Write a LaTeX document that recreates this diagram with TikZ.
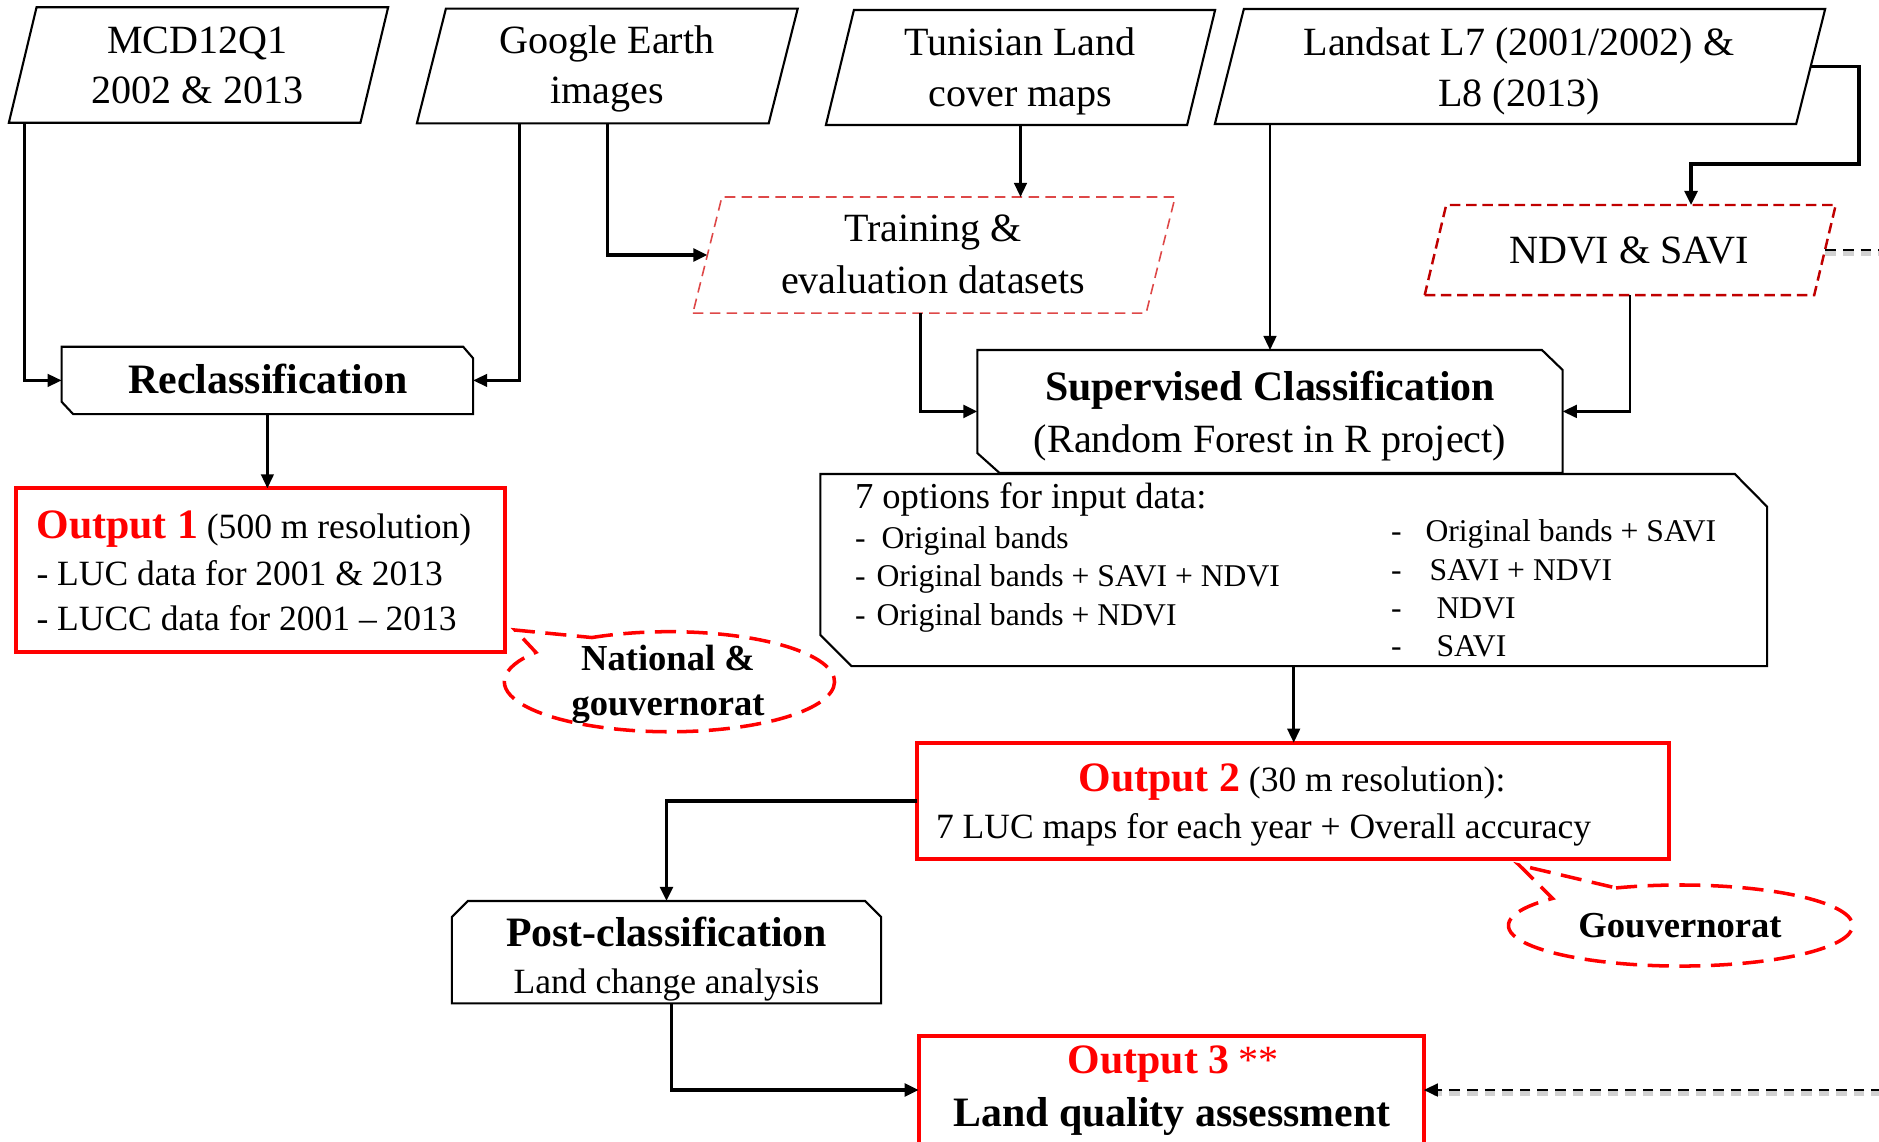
\documentclass[tikz,border=0pt]{standalone}
\usepackage{fontspec}
\setmainfont{Liberation Serif}
\usetikzlibrary{arrows.meta,calc}
\definecolor{trainred}{RGB}{222,72,72}
\definecolor{ndvired}{RGB}{192,0,0}
\definecolor{outred}{RGB}{255,0,0}
\newcommand\fxA{\fontsize{11.4pt}{14.2pt}\selectfont}
\newcommand\fxB{\fontsize{11.9pt}{14.5pt}\selectfont\bfseries}
\newcommand\fxC{\fontsize{10.1pt}{13pt}\selectfont}
\newcommand\fxH{\fontsize{10.4pt}{13pt}\selectfont}
\newcommand\fxD{\fontsize{9pt}{11pt}\selectfont}
\newcommand\fxE{\fontsize{10.4pt}{13pt}\selectfont\bfseries}
\newcommand\paraout[3]{\draw[#1] (#2.south west) -- ([xshift=-#3]#2.south east) -- (#2.north east) -- ([xshift=#3]#2.north west) -- cycle;}
\newcommand\snipout[6]{\draw[#1] (#2.north west) -- ([xshift=-#3]#2.north east) -- ([yshift=-#4]#2.north east) -- (#2.south east) -- ([xshift=#5]#2.south west) -- ([yshift=#6]#2.south west) -- cycle;}
\begin{document}
\begin{tikzpicture}[x=0.01cm,y=0.01cm,
  frame/.style={inner sep=0pt, outer sep=0pt},
  tx/.style={inner sep=0pt, outer sep=0pt, anchor=base},
  txl/.style={inner sep=0pt, outer sep=0pt, anchor=base west},
  boxline/.style={draw=black, line width=0.6pt, line join=miter},
  redbox/.style={draw=outred, line width=1.1pt},
  trainline/.style={draw=trainred, line width=0.45pt, dash pattern=on 3pt off 1.8pt},
  ndviline/.style={draw=ndvired, line width=0.7pt, dash pattern=on 3pt off 1.6pt},
  callout/.style={draw=outred, line width=1pt, dash pattern=on 6pt off 3pt},
  conn/.style={draw=black, line width=0.7pt, -{Triangle[length=4pt,width=3.6pt]}},
  connk/.style={conn, line width=0.95pt},
  dashk/.style={draw=black, line width=0.75pt, dash pattern=on 3pt off 2pt},
  shadowk/.style={draw=black!18, line width=1.8pt, dash pattern=on 3pt off 2pt}
]
\useasboundingbox (0,0) rectangle (1879,-1141);
\clip (0,0) rectangle (1879,-1141);

% ---------- frames ----------
\node[frame, minimum width=3.791cm, minimum height=1.154cm] (mcd) at (198.5,-65) {};
\node[frame, minimum width=3.806cm, minimum height=1.146cm] (google) at (607.3,-66) {};
\node[frame, minimum width=3.89cm, minimum height=1.15cm] (tunis) at (1020.5,-67.5) {};
\node[frame, minimum width=6.10cm, minimum height=1.15cm] (landsat) at (1520,-66.5) {};
\node[frame, minimum width=4.82cm, minimum height=1.16cm] (train) at (934,-255) {};
\node[frame, minimum width=4.108cm, minimum height=0.90cm] (ndvi) at (1630.2,-250) {};
\node[frame, minimum width=4.113cm, minimum height=0.673cm] (reclass) at (267.4,-380.4) {};
\node[frame, minimum width=5.85cm, minimum height=1.227cm] (sup) at (1270,-411.4) {};
\node[frame, minimum width=9.462cm, minimum height=1.92cm] (opts) at (1293.7,-570) {};
\node[frame, minimum width=4.887cm, minimum height=1.637cm] (out1) at (260.7,-570.2) {};
\node[frame, minimum width=7.519cm, minimum height=1.166cm] (out2) at (1293,-801) {};
\node[frame, minimum width=4.29cm, minimum height=1.023cm] (post) at (666.5,-952.2) {};
\node[frame, minimum width=5.047cm, minimum height=1.08cm] (out3) at (1171.25,-1090) {};
\coordinate (natl) at (669.4,-681.7);
\coordinate (natlTip) at (515,-630);
\coordinate (gouv) at (1680.5,-925.5);
\coordinate (gouvTip) at (1519,-865);
\coordinate (edgeA) at (1882,-250);
\coordinate (edgeB) at (1882,-1090);
\coordinate (ndin) at ([xshift=0.608cm]ndvi.north);
\coordinate (ndturn) at ($(ndin)+(0,41)$);

% ---------- outlines ----------
\paraout{boxline}{mcd}{0.277cm}
\paraout{boxline}{google}{0.29cm}
\paraout{boxline}{tunis}{0.28cm}
\paraout{boxline}{landsat}{0.29cm}
\paraout{trainline}{train}{0.29cm}
\paraout{ndviline}{ndvi}{0.215cm}
\snipout{boxline}{reclass}{0.10cm}{0.116cm}{0.115cm}{0.123cm}
\snipout{boxline}{sup}{0.207cm}{0.20cm}{0.22cm}{0.197cm}
\snipout{boxline}{opts}{0.323cm}{0.327cm}{0.31cm}{0.31cm}
\draw[boxline] (post.south west) -- ([yshift=-0.16cm]post.north west) -- ([xshift=0.16cm]post.north west) -- ([xshift=-0.16cm]post.north east) -- ([yshift=-0.16cm]post.north east) -- (post.south east) -- cycle;
\draw[redbox] (out1.south west) rectangle (out1.north east);
\draw[redbox] (out2.south west) rectangle (out2.north east);
\draw[redbox] (out3.south west) rectangle (out3.north east);
\draw[callout] ($(natl)+(118:1.65cm and 0.5cm)$) arc[start angle=118, end angle=-216, x radius=1.65cm, y radius=0.5cm] -- (natlTip) -- cycle;
\draw[callout] ($(gouv)+(112:1.72cm and 0.405cm)$) arc[start angle=112, end angle=-222, x radius=1.72cm, y radius=0.405cm] -- (gouvTip) -- cycle;

% ---------- texts ----------
\node[tx, font=\fxA] (mcdT1) at (197.5,-53.3) {MCD12Q1};
\node[tx, font=\fxA] (mcdT2) at (197.5,-103.3) {2002 \& 2013};
\node[tx, font=\fxA] (googleT1) at (607,-53.3) {Google Earth};
\node[tx, font=\fxA] (googleT2) at (607,-103.3) {images};
\node[tx, font=\fxA] (tunisT1) at (1020.2,-55) {Tunisian Land};
\node[tx, font=\fxA] (tunisT2) at (1020.2,-106.7) {cover maps};
\node[tx, font=\fxA] (landsatT1) at (1519,-55) {Landsat L7 (2001/2002) \&};
\node[tx, font=\fxA] (landsatT2) at (1519,-106.7) {L8 (2013)};
\node[tx, font=\fxA] (trainT1) at (933,-241.5) {Training \&};
\node[tx, font=\fxA] (trainT2) at (933,-293) {evaluation datasets};
\node[tx, font=\fxA] (ndviT) at (1629,-263.3) {NDVI \& SAVI};
\node[tx, font=\fxB] (reclassT) at (268,-393.3) {Reclassification};
\node[tx, font=\fxB] (supT1) at (1270,-400) {Supervised Classification};
\node[tx, font=\fxA] (supT2) at (1270,-452) {(Random Forest in R project)};

\node[txl, font=\fxH] (optH) at (855,-508.3) {7 options for input data:};
\node[txl, font=\fxD] (optL1) at (855,-548.3) {-\hspace{0.16cm}Original bands};
\node[txl, font=\fxD] (optL2) at (855,-586.7) {-\hspace{0.11cm}Original bands + SAVI + NDVI};
\node[txl, font=\fxD] (optL3) at (855,-625) {-\hspace{0.11cm}Original bands + NDVI};
\node[txl, font=\fxD] (optR1) at (1391,-541.7) {-\hspace{0.24cm}Original bands + SAVI};
\node[txl, font=\fxD] (optR2) at (1391,-580) {-\hspace{0.28cm}SAVI + NDVI};
\node[txl, font=\fxD] (optR3) at (1391,-618.3) {-\hspace{0.35cm}NDVI};
\node[txl, font=\fxD] (optR4) at (1391,-656.7) {-\hspace{0.35cm}SAVI};

\node[txl] (out1T1) at (36.5,-538.3) {{\fxB\color{outred}Output 1} {\fxC(500 m resolution)}};
\node[txl, font=\fxC] (out1T2) at (36.5,-585) {- LUC data for 2001 \& 2013};
\node[txl, font=\fxC] (out1T3) at (36.5,-630.7) {- LUCC data for 2001 – 2013};

\node[tx, font=\fxE] (natlT1) at (668,-670) {National \&};
\node[tx, font=\fxE] (natlT2) at (668,-715) {gouvernorat};
\node[tx, font=\fxE] (gouvT) at (1680,-937.3) {Gouvernorat};

\node[txl] (out2T1) at (1078.5,-791.7) {{\fxB\color{outred}Output 2} {\fxC(30 m resolution):}};
\node[txl, font=\fxC] (out2T2) at (936,-838.3) {7 LUC maps for each year + Overall accuracy};

\node[tx, font=\fxB] (postT1) at (666.5,-946.7) {Post-classification};
\node[tx, font=\fxC] (postT2) at (666.5,-993.3) {Land change analysis};

\node[txl] (out3T1) at (1067.7,-1073.3) {{\fxB\color{outred}Output 3} {\fxA\color{outred}**}};
\node[tx, font=\fxB] (out3T2) at (1172,-1126.7) {Land quality assessment};

% ---------- connectors ----------
\draw[conn] ([xshift=0.157cm]mcd.south west) |- (reclass.west);
\draw[conn] ([xshift=-0.879cm]google.south) |- (reclass.east);
\draw[connk] (google.south) |- ([xshift=0.145cm]train.west);
\draw[conn] (tunis.south) -- (tunis.south |- train.north);
\draw[conn] (sup.north |- landsat.south) -- (sup.north);
\draw[connk] ([xshift=-0.143cm]landsat.east) -- ++(48,0) |- (ndturn) -- (ndin);
\draw[conn] (ndvi.south) |- (sup.east);
\draw[connk] ([xshift=-0.136cm]train.south) |- (sup.west);
\draw[conn] (reclass.south) -- (reclass.south |- out1.north);
\draw[conn] (opts.south) -- (opts.south |- out2.north);
\draw[connk] (out2.west) -| (post.north);
\draw[connk] ([xshift=0.05cm]post.south) |- (out3.west);
\draw[shadowk] ([xshift=-0.103cm,yshift=-0.03cm]ndvi.east) -- ([yshift=-0.03cm]edgeA);
\draw[dashk] ([xshift=-0.103cm]ndvi.east) -- (edgeA);
\draw[shadowk] ([yshift=-0.03cm]edgeB) -- ([xshift=0.1cm,yshift=-0.03cm]out3.east);
\draw[dashk, -{Triangle[length=4pt,width=3.6pt]}] (edgeB) -- (out3.east);
\end{tikzpicture}
\end{document}
